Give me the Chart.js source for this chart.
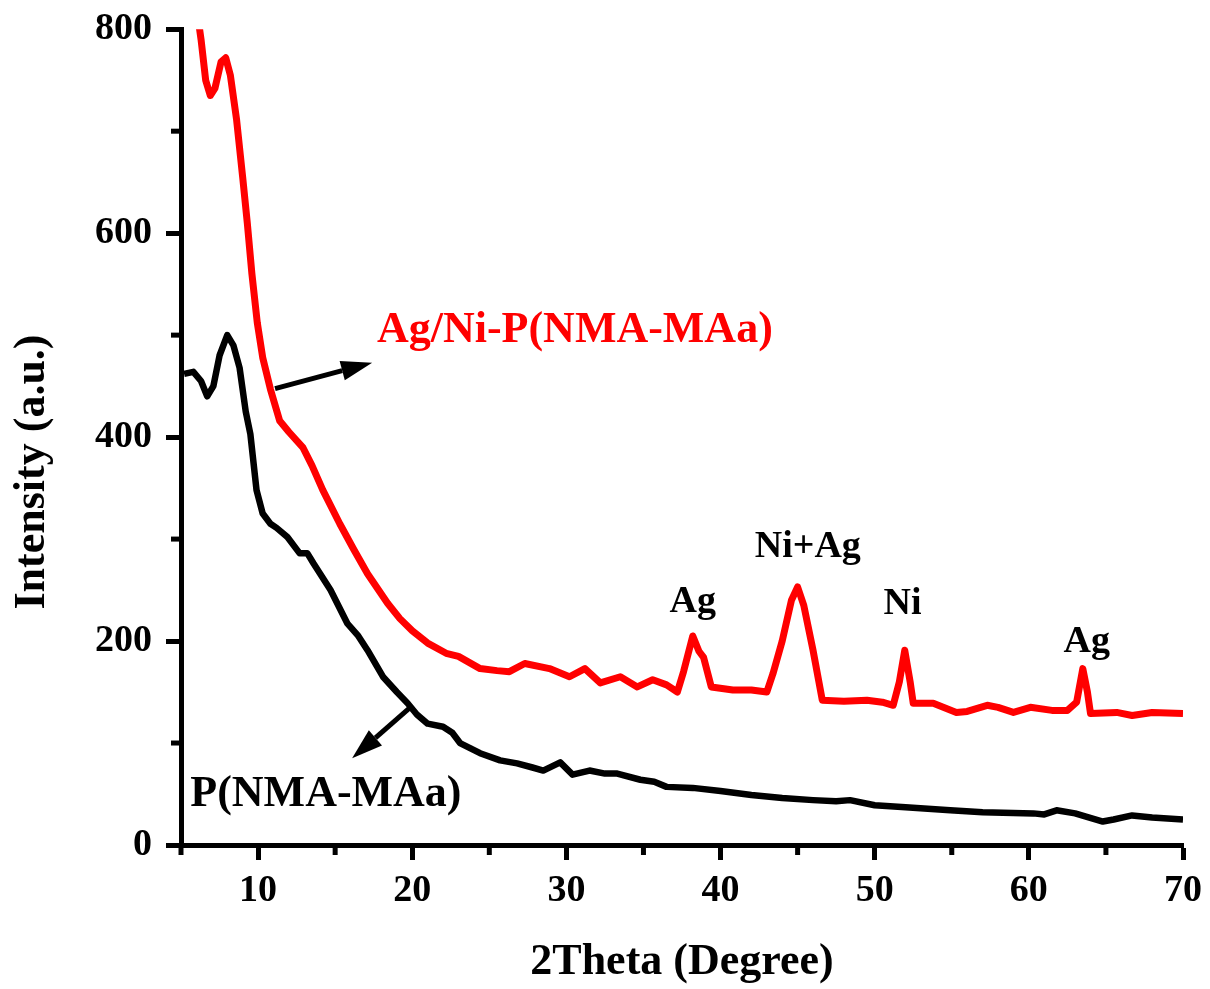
<!DOCTYPE html>
<html>
<head>
<meta charset="utf-8">
<script src="https://cdn.jsdelivr.net/npm/chart.js@4.4.1/dist/chart.umd.min.js"></script>
<style>
  body { margin: 0; background: #fff; }
  #wrap { width: 1210px; height: 989px; }
</style>
</head>
<body>
<div id="wrap"><canvas id="xrd" width="1210" height="989"></canvas></div>
<script>
// Ag/Ni-P(NMA-MAa)
const xRed = [6.0, 6.3, 6.6, 6.9, 7.2, 7.6, 7.9, 8.2, 8.6, 9.0, 9.3, 9.6, 9.95, 10.3, 10.8, 11.4, 12.0, 12.9, 13.5, 14.2,
  15.3, 16.2, 17.1, 18.4, 19.2, 20.0, 21.0, 22.2, 23.0, 24.4, 25.5, 26.3, 27.3, 28.9, 30.2, 31.2, 32.2, 33.5, 34.6, 35.6,
  36.5, 37.2, 37.6, 38.2, 38.6, 38.9, 39.4, 40.8, 42.0, 43.0, 43.4, 44.0, 44.6, 45.0, 45.4, 46.0, 46.6, 48.0, 49.5, 50.5,
  51.2, 51.6, 51.95, 52.3, 52.5, 53.8, 55.3, 56.0, 57.3, 58.0, 59.0, 60.1, 61.5, 62.5, 63.1, 63.5, 63.8, 64.0, 65.7, 66.7,
  68.0, 70.0];
const yRed = [822, 790, 750, 735, 742, 768, 772, 755, 712, 655, 610, 560, 512, 478, 447, 416, 405, 390, 372, 348,
  315, 290, 266, 237, 222, 210, 198, 188, 185, 173, 171, 170, 178, 173, 165, 173, 159, 165, 155, 162,
  157, 150, 170, 205, 190, 184, 155, 152, 152, 150, 168, 200, 240, 253, 235, 191, 142, 141, 142, 140,
  137, 160, 191, 160, 139, 139, 130, 131, 137, 135, 130, 135, 132, 132, 140, 173, 150, 129, 130, 127,
  130, 129];

// P(NMA-MAa)
const xBlack = [5.2, 5.8, 6.3, 6.7, 7.1, 7.5, 8.0, 8.4, 8.8, 9.2, 9.5, 9.9, 10.3, 10.8, 11.2, 11.9, 12.7, 13.2, 13.6, 14.7,
  15.8, 16.5, 17.1, 18.1, 19.0, 19.7, 20.3, 21.0, 22.0, 22.6, 23.1, 24.4, 25.7, 26.8, 27.8, 28.5, 29.6, 30.4, 31.5, 32.5,
  33.3, 34.8, 35.7, 36.5, 38.2, 40.0, 42.0, 44.0, 46.0, 47.5, 48.4, 50.0, 52.0, 54.9, 57.0, 60.3, 61.0, 61.8, 63.0, 64.8,
  65.5, 66.7, 68.0, 70.0];
const yBlack = [462, 464, 455, 440, 450, 480, 500, 490, 468, 425, 403, 348, 325, 315, 311, 302, 286, 286, 276, 250,
  217, 205, 191, 165, 150, 139, 128, 119, 116, 110, 100, 90, 83, 80, 76, 73, 81, 69, 73, 70,
  70, 64, 62, 57, 56, 53, 49, 46, 44, 43, 44, 39, 37, 34, 32, 31, 30, 34, 31, 23,
  25, 29, 27, 25];

const xTicks = [10, 20, 30, 40, 50, 60, 70];
const xMinor = [5, 15, 25, 35, 45, 55, 65];
const yTicks = [0, 200, 400, 600, 800];
const yMinor = [100, 300, 500, 700];

// peak labels: [text, 2theta, intensity]
const peakLabels = [
  ['Ag', 38.2, 238],
  ['Ni+Ag', 45.66, 292],
  ['Ni', 51.8, 236],
  ['Ag', 63.75, 199]
];

const FONT = '"Liberation Serif", "Times New Roman", serif';

function pts(xs, ys) {
  return xs.map((x, i) => ({ x: x, y: ys[i] }));
}

function arrow(ctx, x1, y1, x2, y2) {
  const ang = Math.atan2(y2 - y1, x2 - x1);
  const hl = 31, hw = 10;
  const bx = x2 - hl * Math.cos(ang), by = y2 - hl * Math.sin(ang);
  ctx.beginPath();
  ctx.moveTo(x1, y1);
  ctx.lineTo(bx, by);
  ctx.stroke();
  ctx.beginPath();
  ctx.moveTo(x2, y2);
  ctx.lineTo(bx + hw * Math.sin(ang), by - hw * Math.cos(ang));
  ctx.lineTo(bx - hw * Math.sin(ang), by + hw * Math.cos(ang));
  ctx.closePath();
  ctx.fill();
}

const extras = {
  id: 'extras',
  afterDraw(chart) {
    const ctx = chart.ctx;
    const xs = chart.scales.x, ys = chart.scales.y;
    const X = v => xs.getPixelForValue(v), Y = v => ys.getPixelForValue(v);
    ctx.save();

    // minor ticks
    ctx.strokeStyle = '#000';
    ctx.lineWidth = 5;
    yMinor.forEach(v => {
      ctx.beginPath();
      ctx.moveTo(X(5), Y(v));
      ctx.lineTo(X(5) - 10, Y(v));
      ctx.stroke();
    });
    xMinor.forEach(v => {
      ctx.beginPath();
      ctx.moveTo(X(v), Y(0));
      ctx.lineTo(X(v), Y(0) + 10);
      ctx.stroke();
    });

    // y title
    ctx.fillStyle = '#000';
    ctx.font = 'bold 44px ' + FONT;
    ctx.textAlign = 'center';
    ctx.textBaseline = 'middle';
    ctx.save();
    ctx.translate(33, 472);
    ctx.rotate(-Math.PI / 2);
    ctx.fillText('Intensity (a.u.)', 0, 0);
    ctx.restore();

    // series labels
    ctx.fillStyle = '#ff0000';
    ctx.fillText('Ag/Ni-P(NMA-MAa)', X(30.55), Y(504));
    ctx.fillStyle = '#000';
    ctx.fillText('P(NMA-MAa)', X(14.4), Y(49));

    // arrows
    ctx.lineWidth = 5;
    ctx.lineCap = 'butt';
    arrow(ctx, X(11.1), Y(447.6), X(17.4), Y(473));
    arrow(ctx, X(19.8), Y(134), X(16.1), Y(85));

    // peak labels
    ctx.font = 'bold 38px ' + FONT;
    peakLabels.forEach(p => ctx.fillText(p[0], X(p[1]), Y(p[2])));
    ctx.restore();
  }
};

new Chart(document.getElementById('xrd'), {
  type: 'line',
  data: {
    datasets: [
      {
        label: 'Ag/Ni-P(NMA-MAa)',
        data: pts(xRed, yRed),
        borderColor: '#ff0000',
        borderWidth: 7,
        pointRadius: 0,
        tension: 0,
        borderJoinStyle: 'round'
      },
      {
        label: 'P(NMA-MAa)',
        data: pts(xBlack, yBlack),
        borderColor: '#000',
        borderWidth: 6.5,
        pointRadius: 0,
        tension: 0,
        borderJoinStyle: 'round'
      }
    ]
  },
  options: {
    responsive: false,
    animation: false,
    devicePixelRatio: 1,
    layout: { padding: { top: 28, right: 27, left: 0, bottom: 0 } },
    plugins: { legend: { display: false }, tooltip: { enabled: false } },
    scales: {
      x: {
        type: 'linear',
        min: 5,
        max: 70,
        afterFit: s => { s.height = 144; },
        afterBuildTicks: s => { s.ticks = xTicks.map(v => ({ value: v })); },
        grid: { drawOnChartArea: false, drawTicks: true, tickLength: 15, tickWidth: 5, tickColor: '#000' },
        border: { display: true, width: 5, color: '#000' },
        ticks: { color: '#000', padding: 8, maxRotation: 0, font: { family: FONT, size: 38, weight: 'bold' } },
        title: {
          display: true,
          text: '2Theta (Degree)',
          color: '#000',
          padding: { top: 0, bottom: 4 },
          font: { family: FONT, size: 44, weight: 'bold', lineHeight: 1 }
        }
      },
      y: {
        min: 0,
        max: 800,
        afterFit: s => { s.width = 181; },
        afterBuildTicks: s => { s.ticks = yTicks.map(v => ({ value: v })); },
        grid: { drawOnChartArea: false, drawTicks: true, tickLength: 15, tickWidth: 5, tickColor: '#000' },
        border: { display: true, width: 5, color: '#000' },
        ticks: { color: '#000', padding: 14, font: { family: FONT, size: 38, weight: 'bold', lineHeight: 0.8 } }
      }
    }
  },
  plugins: [extras]
});
</script>
</body>
</html>
